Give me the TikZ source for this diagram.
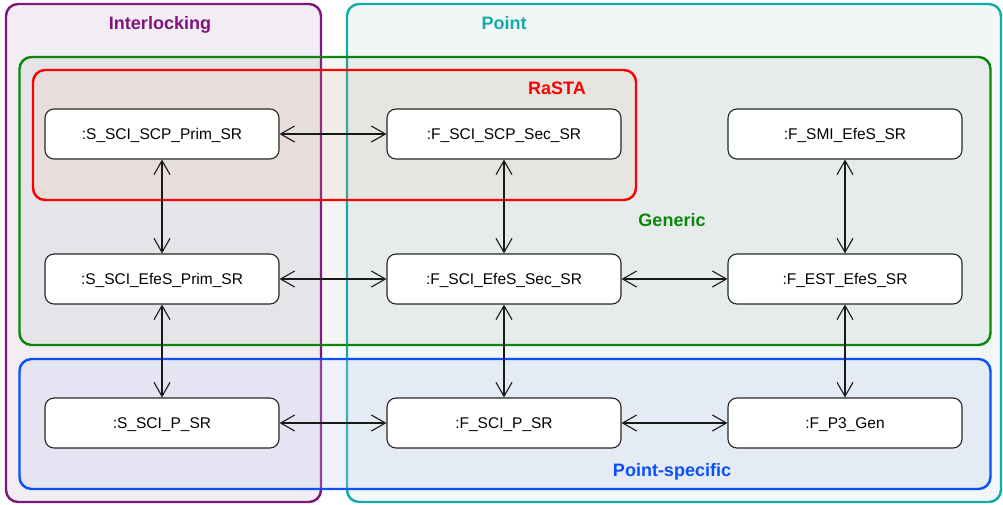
\documentclass[tikz,border=0pt]{standalone}
\usepackage{fontspec}
\setmainfont{Liberation Sans}
\usetikzlibrary{arrows.meta}
\definecolor{cPurple}{RGB}{128,20,128}
\definecolor{cTeal}{RGB}{20,170,170}
\definecolor{cGreen}{RGB}{10,135,10}
\definecolor{cRed}{RGB}{255,0,0}
\definecolor{cBlue}{RGB}{10,80,250}
\definecolor{fPurple}{RGB}{241,237,243}
\definecolor{fTeal}{RGB}{241,246,246}
\definecolor{fGreen}{RGB}{128,140,128}
\definecolor{fRed}{RGB}{240,180,140}
\definecolor{fBlue}{RGB}{190,205,240}
\tikzset{
  grp/.style={line width=2.4pt, rounded corners=12pt},
  comp/.style={draw=black!85, line width=1.1pt, fill=white, rounded corners=9pt,
    minimum width=234pt, minimum height=50pt, inner sep=0pt, text height=11pt, text depth=0pt,
    font=\fontsize{15.5}{18}\selectfont},
  glabel/.style={font=\fontsize{18}{21}\selectfont\bfseries, inner sep=0pt, anchor=base},
  link/.style={line width=1.1pt, black!90, {Straight Barb[length=14pt,width=16pt,line width=1.1pt]}-{Straight Barb[length=14pt,width=16pt,line width=1.1pt]}}
}
\begin{document}
\begin{tikzpicture}[x=1pt,y=-1pt]
\useasboundingbox (0,0) rectangle (1003,504);
% big containers
\draw[grp, draw=cPurple, fill=fPurple] (6,4) rectangle (321,502);
\draw[grp, draw=cTeal, fill=fTeal] (347,4) rectangle (1001,502);
\draw[grp, draw=cGreen, fill=fGreen, fill opacity=0.09] (19.5,57) rectangle (990.5,345);
\draw[grp, draw=cRed, fill=fRed, fill opacity=0.12] (33,70) rectangle (636,200);
\draw[grp, draw=cBlue, fill=fBlue, fill opacity=0.25] (19.5,359) rectangle (990.5,489);
% group labels
\node[glabel, text=cPurple] (lInter) at (160,29) {Interlocking};
\node[glabel, text=cTeal] (lPoint) at (504,29) {Point};
\node[glabel, text=cRed] (lRasta) at (557,94.5) {RaSTA};
\node[glabel, text=cGreen] (lGen) at (672,226.5) {Generic};
\node[glabel, text=cBlue] (lPS) at (672,476) {Point-specific};
% components
\node[comp] (a1) at (162,134) {:S\_SCI\_SCP\_Prim\_SR};
\node[comp] (b1) at (504,134) {:F\_SCI\_SCP\_Sec\_SR};
\node[comp] (c1) at (845,134) {:F\_SMI\_EfeS\_SR};
\node[comp] (a2) at (162,279) {:S\_SCI\_EfeS\_Prim\_SR};
\node[comp] (b2) at (504,279) {:F\_SCI\_EfeS\_Sec\_SR};
\node[comp] (c2) at (845,279) {:F\_EST\_EfeS\_SR};
\node[comp] (a3) at (162,423) {:S\_SCI\_P\_SR};
\node[comp] (b3) at (504,423) {:F\_SCI\_P\_SR};
\node[comp] (c3) at (845,423) {:F\_P3\_Gen};
% links
\draw[link] (a1) -- (b1);
\draw[link] (a2) -- (b2);
\draw[link] (b2) -- (c2);
\draw[link] (a3) -- (b3);
\draw[link] (b3) -- (c3);
\draw[link] (a1) -- (a2);
\draw[link] (a2) -- (a3);
\draw[link] (b1) -- (b2);
\draw[link] (b2) -- (b3);
\draw[link] (c1) -- (c2);
\draw[link] (c2) -- (c3);
\end{tikzpicture}
\end{document}
